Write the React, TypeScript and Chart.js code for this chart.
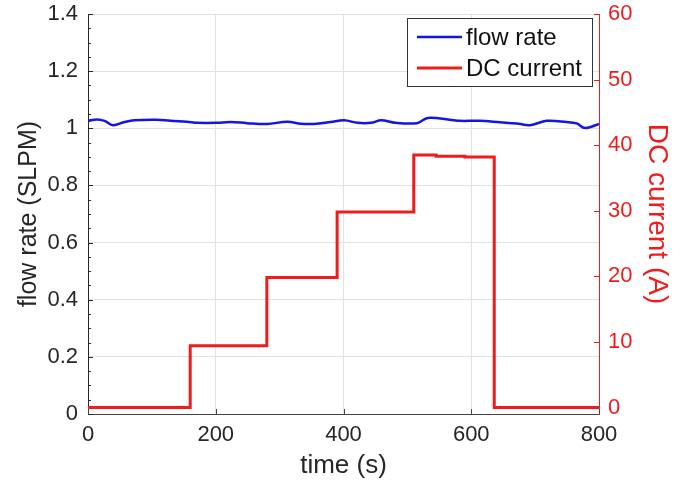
import { useEffect, useRef } from "react";
import { Chart, registerables } from "chart.js";

Chart.register(...registerables);

// Flow rate measured over the run (SLPM)
const flowTime = [0, 14, 26, 39, 56, 72, 108, 129, 155, 171, 202, 223, 249, 280, 312, 333, 354, 380, 401, 422, 443, 459, 481, 515, 532, 566, 582, 613, 645, 671, 692, 718, 749, 765, 778, 800];
const flowRate = [1.026, 1.031, 1.026, 1.011, 1.021, 1.028, 1.030, 1.026, 1.023, 1.019, 1.019, 1.022, 1.018, 1.015, 1.023, 1.016, 1.015, 1.022, 1.028, 1.019, 1.019, 1.028, 1.019, 1.018, 1.036, 1.030, 1.026, 1.026, 1.021, 1.017, 1.011, 1.026, 1.022, 1.017, 1.001, 1.015];

// DC current set points (A), held until the next change
const currentTime = [0, 160, 280, 390, 510, 545, 590, 636, 800];
const currentAmps = [0, 9.4, 19.8, 29.8, 38.5, 38.3, 38.2, 0, 0];

const timeTicks = [0, 200, 400, 600, 800];
const flowTicks = [0, 0.2, 0.4, 0.6, 0.8, 1, 1.2, 1.4];
const currentTicks = [0, 10, 20, 30, 40, 50, 60];

const seriesNames = ["flow rate", "DC current"];

const BLUE = "#1414e6";
const RED = "#ee1c1c";
const AXIS_DARK = "#262626";
const GRID = "#e2e2e2";
const FONT = "'Liberation Sans', Arial, Helvetica, sans-serif";

// Inward tick marks (with minor ticks on the flow axis) and the boxed legend
const decorations = {
  id: "decorations",
  afterDraw(chart: any) {
    const { ctx, chartArea } = chart;
    const x = chart.scales.x;
    const y = chart.scales.y;
    const y1 = chart.scales.y1;
    ctx.save();
    ctx.lineWidth = 1;

    ctx.strokeStyle = AXIS_DARK;
    for (let i = 0; i <= 28; i++) {
      const v = i * 0.05;
      const py = Math.round(y.getPixelForValue(v)) + 0.5;
      const len = i % 4 === 0 ? 5 : 3;
      ctx.beginPath();
      ctx.moveTo(chartArea.left, py);
      ctx.lineTo(chartArea.left + len, py);
      ctx.stroke();
    }

    ctx.strokeStyle = "#444";
    for (const t of timeTicks) {
      const px = Math.round(x.getPixelForValue(t)) + 0.5;
      ctx.beginPath();
      ctx.moveTo(px, chartArea.bottom);
      ctx.lineTo(px, chartArea.bottom - 5);
      ctx.stroke();
    }

    ctx.strokeStyle = RED;
    for (const c of currentTicks) {
      const py = Math.round(y1.getPixelForValue(c)) + 0.5;
      ctx.beginPath();
      ctx.moveTo(chartArea.right, py);
      ctx.lineTo(chartArea.right - 5, py);
      ctx.stroke();
    }

    // legend
    ctx.font = `24px ${FONT}`;
    const textW = Math.max(...seriesNames.map((n) => ctx.measureText(n).width));
    const right = chartArea.right - 7;
    const top = chartArea.top + 4;
    const boxW = 10 + 45 + 4 + textW + 10;
    const left = right - boxW;
    const boxH = 68;
    ctx.fillStyle = "#fff";
    ctx.fillRect(left, top, boxW, boxH);
    ctx.strokeStyle = "#333";
    ctx.lineWidth = 1;
    ctx.strokeRect(Math.round(left) + 0.5, top + 0.5, Math.round(boxW), boxH);
    const colors = [BLUE, RED];
    const widths = [2.5, 3];
    seriesNames.forEach((name, i) => {
      const cy = top + 19 + i * 31;
      ctx.strokeStyle = colors[i];
      ctx.lineWidth = widths[i];
      ctx.beginPath();
      ctx.moveTo(left + 10, cy);
      ctx.lineTo(left + 55, cy);
      ctx.stroke();
      ctx.fillStyle = "#111";
      ctx.textBaseline = "middle";
      ctx.textAlign = "left";
      ctx.fillText(name, left + 59, cy + 1);
    });
    ctx.restore();
  },
};

// keep the plot area fixed: tick labels may overhang the frame edges
const noVerticalOverhang = (scale: any) => {
  scale.paddingTop = 0;
  scale.paddingBottom = 0;
};

export default function App() {
  const canvasRef = useRef<HTMLCanvasElement | null>(null);

  useEffect(() => {
    if (!canvasRef.current) return;
    Chart.defaults.font.family = FONT;
    const chart = new Chart(canvasRef.current, {
      type: "line",
      data: {
        datasets: [
          {
            label: seriesNames[0],
            data: flowTime.map((t, i) => ({ x: t, y: flowRate[i] })),
            borderColor: BLUE,
            borderWidth: 2.5,
            pointRadius: 0,
            tension: 0.35,
            yAxisID: "y",
          },
          {
            label: seriesNames[1],
            data: currentTime.map((t, i) => ({ x: t, y: currentAmps[i] })),
            borderColor: RED,
            borderWidth: 3,
            pointRadius: 0,
            // hold each value until the next time point, then jump
            stepped: "before",
            yAxisID: "y1",
          },
        ],
      },
      options: {
        responsive: false,
        animation: false,
        layout: { padding: { top: 14, left: 0, right: 0, bottom: 0 } },
        plugins: { legend: { display: false }, tooltip: { enabled: false } },
        scales: {
          x: {
            type: "linear",
            min: 0,
            max: 800,
            afterBuildTicks: (axis: any) => {
              axis.ticks = timeTicks.map((v) => ({ value: v }));
            },
            afterFit: (scale: any) => {
              scale.height = 74;
              scale.paddingLeft = 0;
              scale.paddingRight = 0;
            },
            ticks: { color: AXIS_DARK, font: { size: 22 }, padding: 8, maxRotation: 0 },
            grid: { color: GRID, drawTicks: false },
            border: { color: "#444", width: 1 },
            title: {
              display: true,
              text: "time (s)",
              color: AXIS_DARK,
              font: { size: 26 },
              padding: { top: 0, bottom: 6.5 },
            },
          },
          y: {
            type: "linear",
            position: "left",
            min: 0,
            max: 1.4,
            afterBuildTicks: (axis: any) => {
              axis.ticks = flowTicks.map((v) => ({ value: v }));
            },
            afterFit: (scale: any) => {
              scale.width = 88;
              noVerticalOverhang(scale);
            },
            ticks: {
              color: AXIS_DARK,
              font: { size: 22 },
              padding: 10,
              callback: (v: any) => String(Math.round(Number(v) * 10) / 10),
            },
            grid: { color: GRID, drawTicks: false },
            border: { color: AXIS_DARK, width: 1 },
            title: {
              display: true,
              text: "flow rate (SLPM)",
              color: AXIS_DARK,
              font: { size: 25 },
              padding: { top: 14, bottom: 0 },
            },
          },
          y1: {
            type: "linear",
            position: "right",
            min: -1,
            max: 60,
            afterBuildTicks: (axis: any) => {
              axis.ticks = currentTicks.map((v) => ({ value: v }));
            },
            afterFit: (scale: any) => {
              scale.width = 84;
              noVerticalOverhang(scale);
            },
            ticks: { color: RED, font: { size: 22 }, padding: 9 },
            grid: { drawOnChartArea: false, drawTicks: false },
            border: { color: RED, width: 1 },
            title: {
              display: true,
              text: "DC current (A)",
              color: RED,
              font: { size: 28 },
              padding: { top: 9, bottom: 0 },
            },
          },
        },
      },
      plugins: [decorations],
    });
    return () => chart.destroy();
  }, []);

  return (
    <div style={{ position: "absolute", left: 0, top: 0, width: 683, height: 488, background: "#fff" }}>
      <canvas ref={canvasRef} width={683} height={488} />
    </div>
  );
}
